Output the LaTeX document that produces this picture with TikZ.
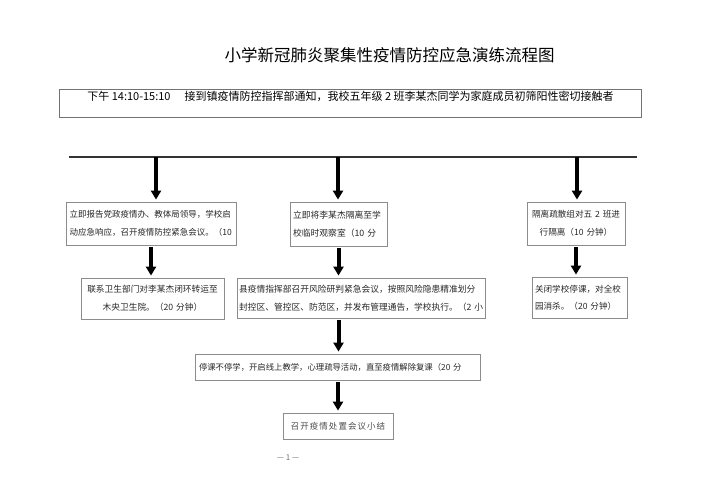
\documentclass[tikz,border=0pt]{standalone}
\usepackage{fontspec}
\setmainfont{Noto Sans CJK SC}
\newfontfamily\spacedcjk[LetterSpace=12]{Noto Sans CJK SC}
\usetikzlibrary{arrows.meta}
\definecolor{boxline}{HTML}{8C8C8C}
\definecolor{txt}{HTML}{262626}
\begin{document}
\begin{tikzpicture}[x=1pt,y=-1pt,
  box/.style={draw=boxline, line width=0.8pt, inner sep=0pt, text=txt},
  lbox/.style={box, align=left},
  cbox/.style={box, align=center},
  arr/.style={line width=4pt, black, -{Triangle[width=10pt,length=9pt]}, shorten >=2pt, shorten <=2pt}]
\useasboundingbox (0,0) rectangle (707,500);

% title
\node[font=\fontsize{16.5}{18}\selectfont, text=black] (title) at (389.5,55) {小学新冠肺炎聚集性疫情防控应急演练流程图};

% top box
\node[draw=black!55, line width=0.8pt, minimum width=582, minimum height=28, inner sep=0pt] (topbox) at (350,103) {};
\node[font=\fontsize{11}{13}\selectfont, text=black, inner sep=0pt] (toptext) at (350.5,96.5) {下午 14:10-15:10\hspace{14pt}接到镇疫情防控指挥部通知，我校五年级~2~班李某杰同学为家庭成员初筛阳性密切接触者};

% horizontal line
\coordinate (hl) at (69,157);
\coordinate (hr) at (637,157);
\draw[line width=1.6pt, black!80] (hl) -- (hr);

% first row
\node[lbox, minimum width=170, minimum height=43, text width=163, font=\fontsize{8.5}{17.5}\selectfont] (b1) at (151,223.5) {立即报告党政疫情办、教体局领导，学校启\\动应急响应，召开疫情防控紧急会议。（10};
\node[lbox, minimum width=97, minimum height=44, text width=91, font=\fontsize{8.8}{17.5}\selectfont] (b2) at (338.5,224) {立即将李某杰隔离至学\\校临时观察室（10~分};
\node[cbox, minimum width=98, minimum height=43, text width=94, font=\fontsize{8.6}{17.5}\selectfont] (b3) at (576,223.5) {隔离疏散组对五~2~班进\\行隔离（10~分钟）};

% second row
\node[cbox, minimum width=143, minimum height=41, text width=137, font=\fontsize{8.7}{18}\selectfont] (b4) at (152.5,298.5) {联系卫生部门对李某杰闭环转运至\\木央卫生院。（20~分钟）};
\node[lbox, minimum width=248, minimum height=40, text width=244, font=\fontsize{8.75}{18}\selectfont] (b5) at (361,298) {县疫情指挥部召开风险研判紧急会议，按照风险隐患精准划分\\封控区、管控区、防范区，并发布管理通告，学校执行。（2~小};
\node[lbox, minimum width=95, minimum height=41, text width=89, font=\fontsize{8.6}{17}\selectfont] (b6) at (579.5,297.5) {关闭学校停课，对全校\\园消杀。（20~分钟）};

% third and fourth rows
\node[lbox, minimum width=285, minimum height=26, text width=277, font=\fontsize{8.35}{10}\selectfont] (b7) at (337.5,367) {停课不停学，开启线上教学，心理疏导活动，直至疫情解除复课（20~分};
\node[box, minimum width=110, minimum height=26, text=black!70, font=\fontsize{8.5}{10}\spacedcjk] (b8) at (338,426) {召开疫情处置会议小结};

% footer
\node[text=black!55, font=\fontsize{8}{9}\selectfont] (pg) at (288,458) {— 1 —};

% arrows from line
\coordinate (t1) at (156,155.5);
\coordinate (t2) at (338,155.5);
\coordinate (t3) at (577,155.5);
\draw[arr] (t1) -- (t1 |- b1.north);
\draw[arr] (t2) -- (t2 |- b2.north);
\draw[arr] (t3) -- (t3 |- b3.north);

% arrows between boxes
\draw[arr] (b1.south) -- (b1.south |- b4.north);
\draw[arr] (b2.south) -- (b2.south |- b5.north);
\draw[arr] (b3.south) -- (b3.south |- b6.north);
\draw[arr] (b2.south |- b5.south) -- (b2.south |- b7.north);
\draw[arr] (b7.south -| b8.north) -- (b8.north);
\end{tikzpicture}
\end{document}
